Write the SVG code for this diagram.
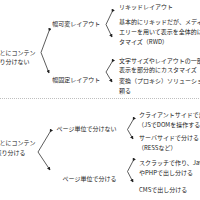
<svg xmlns="http://www.w3.org/2000/svg" width="200" height="200" viewBox="0 0 200 200">
<defs>
<style>
text{font-family:"Noto Sans CJK JP","Noto Sans",sans-serif;font-size:6px;fill:#222}
.c{fill:none;stroke:#333;stroke-width:0.8}
.sep{stroke:#999;stroke-width:0.8;stroke-dasharray:0.8 1.2}
</style>
<marker id="ah" viewBox="0 0 6 6" refX="5" refY="3" markerWidth="3.5" markerHeight="3.5" orient="auto" markerUnits="userSpaceOnUse">
<path d="M0,0 L6,3 L0,6 Z" fill="#222"/>
</marker>
</defs>
<rect width="200" height="200" fill="#fff"/>
<g id="connectors">
<path class="c" d="M49,31 L41,52.5 L49,73" marker-start="url(#ah)" marker-end="url(#ah)"/>
<path class="c" d="M112,12 L106,24.5 L112,37" marker-start="url(#ah)" marker-end="url(#ah)"/>
<path class="c" d="M112,62 L106,72 L112,82" marker-start="url(#ah)" marker-end="url(#ah)"/>
<path class="c" d="M50,132 L38,152 L50,170" marker-start="url(#ah)" marker-end="url(#ah)"/>
<path class="c" d="M133,120 L127.5,129.5 L133,139" marker-start="url(#ah)" marker-end="url(#ah)"/>
<path class="c" d="M133,161 L127.5,171.5 L133,182" marker-start="url(#ah)" marker-end="url(#ah)"/>
</g>
<line class="sep" x1="0" y1="98.5" x2="200" y2="98.5"/>
<g id="root-top">
<text x="35.5" y="54.5" text-anchor="end">ごとにコンテン</text>
<text x="29.5" y="64.2" text-anchor="end">振り分けない</text>
</g>
<g id="fluid"><text x="52.3" y="26">幅可変レイアウト</text></g>
<g id="fixed"><text x="52.3" y="81.5">幅固定レイアウト</text></g>
<g id="liquid"><text x="119" y="9.4">リキッドレイアウト</text></g>
<g id="rwd">
<text x="119" y="24.4">基本的にリキッドだが、メディアク</text>
<text x="119" y="34.4">エリーを用いて表示を全体的にカス</text>
<text x="119" y="44.4">タマイズ（RWD）</text>
</g>
<g id="partial">
<text x="119" y="62.5">文字サイズやレイアウトの一部の</text>
<text x="119" y="72.3">表示を部分的にカスタマイズ</text>
</g>
<g id="proxy">
<text x="119" y="83">変換（プロキシ）ソリューションに</text>
<text x="119" y="92.5">頼る</text>
</g>
<g id="root-bottom">
<text x="35.5" y="145" text-anchor="end">ごとにコンテン</text>
<text x="25.5" y="155" text-anchor="end">振り分ける</text>
</g>
<g id="page-no"><text x="116.5" y="131.2" text-anchor="end">ページ単位で分けない</text></g>
<g id="page-yes"><text x="116.5" y="181.2" text-anchor="end">ページ単位で分ける</text></g>
<g id="client">
<text x="139" y="117">クライアントサイドで出し分け</text>
<text x="138" y="127">（JSでDOMを操作する）</text>
</g>
<g id="server">
<text x="139" y="140">サーバサイドで分ける</text>
<text x="138" y="150">（RESSなど）</text>
</g>
<g id="scratch">
<text x="139" y="165">スクラッチで作り、JavaScript</text>
<text x="139" y="175">やPHPで出し分ける</text>
</g>
<g id="cms"><text x="139" y="192">CMSで出し分ける</text></g>
</svg>
